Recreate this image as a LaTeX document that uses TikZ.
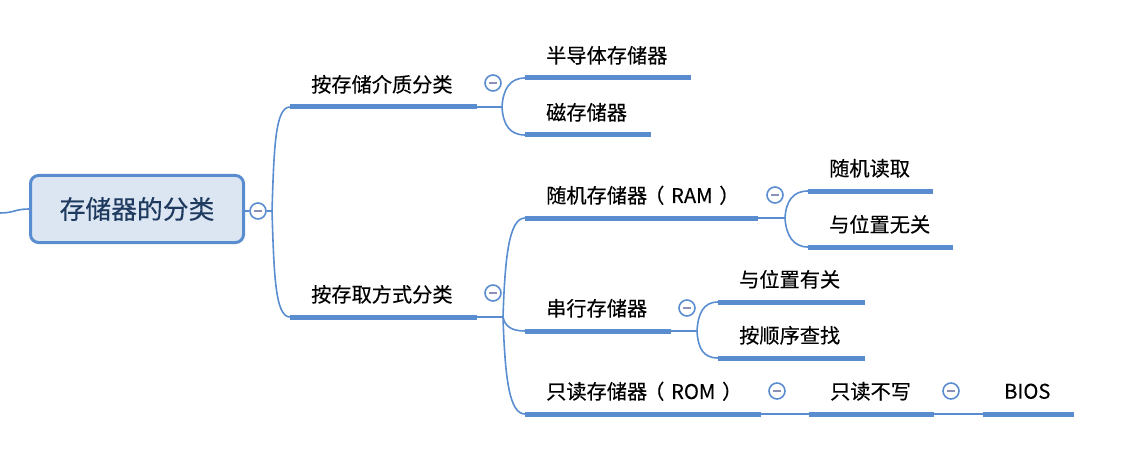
\documentclass[tikz,border=0pt]{standalone}
\usepackage{fontspec}
\newfontfamily\cjk[FakeBold=0.3]{Noto Sans CJK SC}
\usetikzlibrary{calc}
\definecolor{mapblue}{HTML}{5A8DD0}
\definecolor{rootfill}{HTML}{DCE6F2}
\definecolor{roottext}{HTML}{1F3A5F}
\definecolor{minusgrey}{HTML}{8C8FB8}
\begin{document}
\begin{tikzpicture}[x=1pt,y=-1pt,
  topic/.style={anchor=south west, inner xsep=0pt, inner ysep=0pt,
    minimum height=45pt, text width=#1, align=left,
    font=\cjk\fontsize{20.2}{21}\selectfont,
    execute at begin node={\hspace*{21pt}}},
  root/.style={rectangle, rounded corners=8pt, draw=mapblue, line width=3pt,
    fill=rootfill, minimum width=213pt, minimum height=67pt, inner sep=0pt,
    text=roottext, font=\cjk\fontsize{25.8}{26}\selectfont},
  uline/.style={draw=mapblue, line width=5pt},
  link/.style={draw=mapblue, line width=1.6pt},
  fold/.style={circle, draw=mapblue, line width=1.6pt, fill=white,
    minimum size=16pt, inner sep=0pt,
    path picture={\draw[minusgrey, line width=1.8pt]
      ([xshift=-4pt]path picture bounding box.center) --
      ([xshift=4pt]path picture bounding box.center);}},
]
\useasboundingbox (0,0) rectangle (1122,468);

% central topic
\node[root] (root) at (137,209) {存储器的分类};
\coordinate (inlet) at (0,213);
\draw[link] (inlet) .. controls +(14,0) and +(-14,0) .. (root.west);

% first level
\node[topic=187pt] (m1) at (290,107) {按存储介质分类};
\node[topic=187pt] (m2) at (290,317) {按存取方式分类};

% second level
\node[topic=166pt] (s1) at (525,78)  {半导体存储器};
\node[topic=126pt] (s2) at (525,135) {磁存储器};
\node[topic=233pt] (r1) at (525,218) {随机存储器\kern-3pt（ RAM ）};
\node[topic=146pt] (r2) at (525,331) {串行存储器};
\node[topic=236pt] (r3) at (525,414) {只读存储器\kern-3pt（ ROM ）};

% third level
\node[topic=125pt] (a1) at (808,191) {随机读取};
\node[topic=145pt] (a2) at (808,247) {与位置无关};
\node[topic=147pt] (b1) at (718,302) {与位置有关};
\node[topic=147pt] (b2) at (718,358) {按顺序查找};
\node[topic=125pt] (c1) at (809,414) {只读不写};
\node[topic=91pt]  (d1) at (983,414) {BIOS};

% underlines
\foreach \t in {m1,m2,s1,s2,r1,r2,r3,a1,a2,b1,b2,c1,d1}
  \draw[uline] (\t.south west) -- (\t.south east);

% fold markers
\node[fold] (f0) at (258,211) {};
\node[fold] (f1) at (493,83)  {};
\node[fold] (f2) at (493,293) {};
\node[fold] (f3) at (775,195) {};
\node[fold] (f4) at (687,308) {};
\node[fold] (f5) at (777,391) {};
\node[fold] (f6) at (951,391) {};

% branch points
\coordinate (k0) at (272,211);
\coordinate (k1) at (502,107);
\coordinate (k2) at (503,317);
\coordinate (k3) at (785,218);
\coordinate (k4) at (697,331);

% connectors
\draw[link] (root.east |- f0.west) -- (f0.west);
\draw[link] (f0.east) -- (k0);
\draw[link] (k0) .. controls +(2,-62) and +(-15,0) .. (m1.south west);
\draw[link] (k0) .. controls +(2,62) and +(-15,0) .. (m2.south west);

\draw[link] (m1.south east) -- (k1);
\draw[link] (k1) .. controls +(1,-18) and +(-15,0) .. (s1.south west);
\draw[link] (k1) .. controls +(1,18) and +(-15,0) .. (s2.south west);

\draw[link] (m2.south east) -- (k2);
\draw[link] (k2) .. controls +(2,-60) and +(-16,0) .. (r1.south west);
\draw[link] (k2) .. controls +(2,9) and +(-14,0) .. (r2.south west);
\draw[link] (k2) .. controls +(2,60) and +(-16,0) .. (r3.south west);

\draw[link] (r1.south east) -- (k3);
\draw[link] (k3) .. controls +(1,-17) and +(-15,0) .. (a1.south west);
\draw[link] (k3) .. controls +(1,17) and +(-15,0) .. (a2.south west);

\draw[link] (r2.south east) -- (k4);
\draw[link] (k4) .. controls +(1,-17) and +(-15,0) .. (b1.south west);
\draw[link] (k4) .. controls +(1,17) and +(-15,0) .. (b2.south west);

\draw[link] (r3.south east) -- (c1.south west);
\draw[link] (c1.south east) -- (d1.south west);
\end{tikzpicture}
\end{document}
